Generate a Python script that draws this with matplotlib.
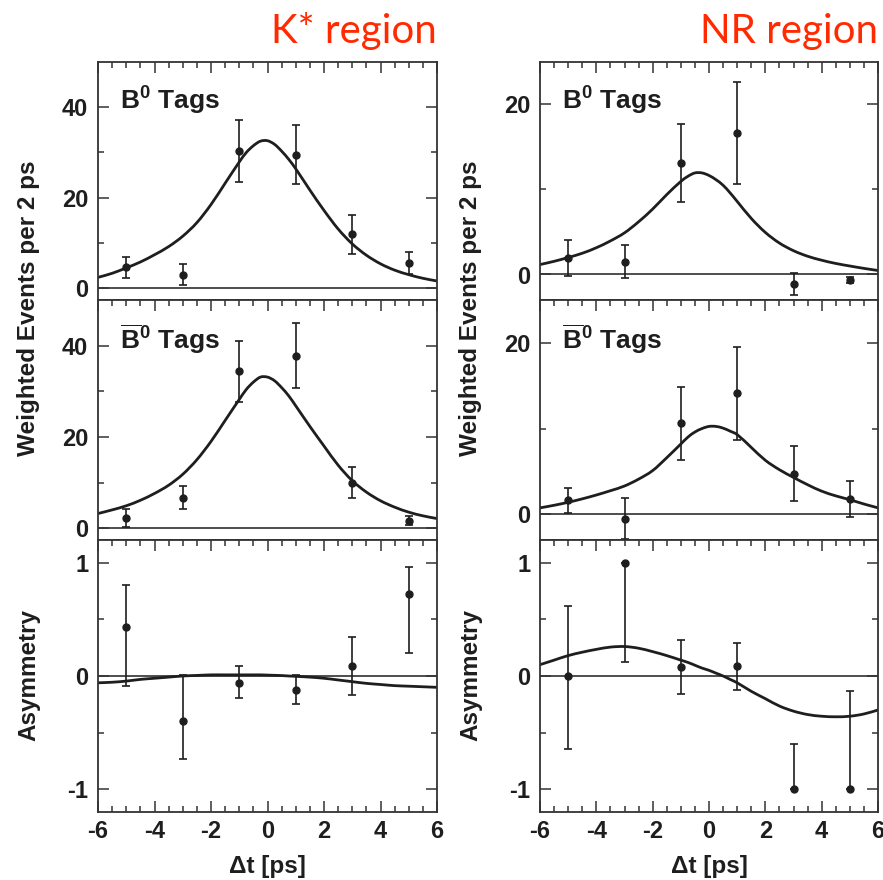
import matplotlib
matplotlib.use("Agg")
import matplotlib.pyplot as plt
from matplotlib.ticker import FixedLocator, NullFormatter
from matplotlib.path import Path
from matplotlib.patches import PathPatch

plt.rcParams['font.family'] = ['Liberation Sans', 'DejaVu Sans']
plt.rcParams['font.weight'] = 'bold'
plt.rcParams['axes.unicode_minus'] = False
plt.rcParams['mathtext.fontset'] = 'custom'
plt.rcParams['mathtext.rm'] = 'Liberation Sans:bold'
plt.rcParams['mathtext.bf'] = 'Liberation Sans:bold'
plt.rcParams['mathtext.it'] = 'Liberation Sans:bold'

# ---- data -----------------------------------------------------------------
bin_centers = [-5, -3, -1, 1, 3, 5]

# K* region: weighted events per 2 ps
kst_b0_vals = [4.6, 3.0, 30.3, 29.5, 11.9, 5.6]
kst_b0_errs = [2.4, 2.3, 6.9, 6.5, 4.3, 2.4]
kst_b0bar_vals = [2.2, 6.7, 34.4, 37.8, 9.9, 1.6]
kst_b0bar_errs = [1.9, 2.6, 6.7, 7.1, 3.4, 1.0]
kst_asym_vals = [0.43, -0.40, -0.06, -0.12, 0.09, 0.72]
kst_asym_lo = [0.52, 0.33, 0.135, 0.125, 0.26, 0.52]
kst_asym_hi = [0.37, 0.41, 0.145, 0.13, 0.25, 0.24]

# NR region
nr_b0_vals = [1.95, 1.52, 13.1, 16.7, -1.13, -0.66]
nr_b0_errs = [2.1, 1.95, 4.6, 6.0, 1.3, 0.38]
nr_b0bar_vals = [1.61, -0.51, 10.6, 14.1, 4.75, 1.73]
nr_b0bar_errs = [1.5, 2.4, 4.3, 5.4, 3.2, 2.1]
nr_asym_vals = [0.0, 1.0, 0.08, 0.09, -1.0, -1.0]
nr_asym_lo = [0.64, 0.88, 0.24, 0.21, 0.0, 0.0]
nr_asym_hi = [0.62, 0.0, 0.24, 0.20, 0.40, 0.87]

# fit projections sampled in delta t
fit_t = [-6, -5.5, -5, -4.5, -4, -3.5, -3, -2.5, -2, -1.5, -1, -0.75, -0.5,
         -0.25, 0, 0.25, 0.5, 0.75, 1, 1.5, 2, 2.5, 3, 3.5, 4, 4.5, 5, 5.5, 6]
kst_b0_fit = [2.4, 3.3, 4.5, 5.8, 7.4, 9.2, 11.5, 14.5, 18.5, 23.2, 27.9, 30.0,
              31.5, 32.5, 32.6, 31.8, 30.3, 28.5, 26.4, 21.7, 17.2, 13.1, 9.8,
              7.3, 5.4, 4.0, 3.0, 2.2, 1.6]
kst_b0bar_fit = [3.2, 4.0, 4.9, 6.1, 7.6, 9.4, 11.8, 15.0, 19.0, 23.6, 28.2,
                 30.4, 32.0, 33.1, 33.1, 32.3, 30.8, 29.0, 26.8, 22.3, 18.0,
                 13.8, 10.4, 7.9, 6.0, 4.6, 3.5, 2.7, 2.1]
kst_asym_fit = [-0.06, -0.055, -0.045, -0.03, -0.02, -0.01, 0.0, 0.005, 0.01,
                0.01, 0.01, 0.01, 0.01, 0.01, 0.008, 0.006, 0.004, 0.0, -0.003,
                -0.01, -0.02, -0.035, -0.05, -0.065, -0.075, -0.085, -0.09,
                -0.095, -0.10]
nr_b0_fit = [1.17, 1.55, 2.0, 2.5, 3.15, 3.95, 4.9, 6.2, 7.7, 9.4, 10.95, 11.55,
             11.95, 11.95, 11.65, 11.15, 10.5, 9.6, 8.6, 6.6, 4.95, 3.7, 2.8,
             2.15, 1.68, 1.3, 1.0, 0.72, 0.47]
nr_b0bar_fit = [0.75, 1.05, 1.4, 1.8, 2.25, 2.75, 3.3, 4.1, 5.1, 6.6, 8.2, 9.0,
                9.6, 10.0, 10.25, 10.25, 10.05, 9.7, 9.3, 7.8, 6.3, 5.2, 4.3,
                3.45, 2.7, 2.15, 1.7, 1.2, 0.75]
nr_asym_fit = [0.10, 0.14, 0.18, 0.21, 0.235, 0.255, 0.26, 0.245, 0.215, 0.18,
               0.14, 0.12, 0.095, 0.07, 0.05, 0.025, 0.0, -0.03, -0.06, -0.135,
               -0.20, -0.265, -0.31, -0.34, -0.355, -0.36, -0.355, -0.335, -0.30]

x_ticks = [-6, -4, -2, 0, 2, 4, 6]
x_minor = [v / 2 for v in range(-12, 13)]
col_titles = ["K* region", "NR region"]

INK = "#1e1e1e"
TITLE_RED = "#ff2a00"
LABEL_SIZE = 17.5
TICK_SIZE = 17

# ---- layout ---------------------------------------------------------------
W, H = 883, 880
fig = plt.figure(figsize=(W / 100, H / 100), dpi=100)


def px_axes(x0, x1, y0, y1):
    return fig.add_axes([x0 / W, 1 - y1 / H, (x1 - x0) / W, (y1 - y0) / H])


def style(ax, ylim, major, minor, bottom_labels):
    ax.set_xlim(-6, 6)
    ax.set_ylim(*ylim)
    ax.axhline(0, color=INK, lw=1.1, zorder=1)
    for s in ax.spines.values():
        s.set_linewidth(1.3)
        s.set_color("#333333")
    ax.xaxis.set_major_locator(FixedLocator(x_ticks))
    ax.xaxis.set_minor_locator(FixedLocator(x_minor))
    ax.yaxis.set_major_locator(FixedLocator(major))
    ax.yaxis.set_minor_locator(FixedLocator(minor))
    ax.tick_params(axis="both", which="both", direction="in", colors="#333333",
                   labelcolor=INK, labelsize=TICK_SIZE, width=1.1)
    ax.tick_params(axis="both", which="major", length=8)
    ax.tick_params(axis="both", which="minor", length=4)
    ax.tick_params(axis="y", which="both", left=True, right=True, pad=7)
    ax.tick_params(axis="x", which="both", top=True, bottom=bottom_labels,
                   labelbottom=bottom_labels, pad=6)
    ax.yaxis.set_minor_formatter(NullFormatter())


def smooth_curve(ax, xs, ys, **kw):
    """Draw a smooth cubic (Hermite) curve through the sampled fit values."""
    n = len(xs)
    slopes = []
    for i in range(n):
        a, b = max(i - 1, 0), min(i + 1, n - 1)
        slopes.append((ys[b] - ys[a]) / (xs[b] - xs[a]))
    verts = [(xs[0], ys[0])]
    codes = [Path.MOVETO]
    for i in range(n - 1):
        h = xs[i + 1] - xs[i]
        verts += [(xs[i] + h / 3, ys[i] + slopes[i] * h / 3),
                  (xs[i + 1] - h / 3, ys[i + 1] - slopes[i + 1] * h / 3),
                  (xs[i + 1], ys[i + 1])]
        codes += [Path.CURVE4] * 3
    ax.add_patch(PathPatch(Path(verts, codes), fill=False, **kw))


def draw(ax, vals, yerr, fit):
    smooth_curve(ax, fit_t, fit, edgecolor=INK, lw=2.0, zorder=2,
                 capstyle="round", joinstyle="round")
    ax.errorbar(bin_centers, vals, yerr=yerr, fmt="o", color=INK, ms=5,
                elinewidth=1.2, capsize=3.2, capthick=1.2, zorder=3)


columns = [
    dict(x0=98, x1=437,
         b0=(kst_b0_vals, kst_b0_errs, kst_b0_fit),
         b0bar=(kst_b0bar_vals, kst_b0bar_errs, kst_b0bar_fit),
         asym=(kst_asym_vals, [kst_asym_lo, kst_asym_hi], kst_asym_fit),
         ylim=(-2.6, 50), major=[0, 20, 40], minor=[10, 30]),
    dict(x0=540, x1=878,
         b0=(nr_b0_vals, nr_b0_errs, nr_b0_fit),
         b0bar=(nr_b0bar_vals, nr_b0bar_errs, nr_b0bar_fit),
         asym=(nr_asym_vals, [nr_asym_lo, nr_asym_hi], nr_asym_fit),
         ylim=(-3, 25), major=[0, 20], minor=[10]),
]

for col, title in zip(columns, col_titles):
    x0, x1 = col["x0"], col["x1"]
    ax_top = px_axes(x0, x1, 62, 300)
    ax_mid = px_axes(x0, x1, 300, 540)
    ax_bot = px_axes(x0, x1, 540, 812)

    style(ax_top, col["ylim"], col["major"], col["minor"], False)
    style(ax_mid, col["ylim"], col["major"], col["minor"], False)
    style(ax_bot, (-1.2, 1.2), [-1, 0, 1], [-0.5, 0.5], True)

    draw(ax_top, *col["b0"])
    draw(ax_mid, *col["b0bar"])
    draw(ax_bot, *col["asym"])

    ax_top.text(0.065, 0.80, r"$\mathbf{B}^{\mathbf{0}}$ Tags", transform=ax_top.transAxes,
                fontsize=19, color=INK, va="baseline", ha="left")
    ax_mid.text(0.065, 0.796, r"$\overline{\mathbf{B}}^{\mathbf{0}}$ Tags",
                transform=ax_mid.transAxes, fontsize=19, color=INK,
                va="baseline", ha="left")

    lab_x = (x0 - 69) / W
    fig.text(lab_x, 1 - 308 / H, "Weighted Events per 2 ps", rotation=90,
             ha="center", va="center", fontsize=LABEL_SIZE, color=INK)
    fig.text(lab_x, 1 - 675 / H, "Asymmetry", rotation=90,
             ha="center", va="center", fontsize=LABEL_SIZE, color=INK)
    fig.text((x0 + x1) / 2 / W, 1 - 866 / H, "\u0394t [ps]",
             ha="center", va="center", fontsize=LABEL_SIZE, color=INK)

    fig.text(x1 / W, 1 - 43 / H, title, family=["Lato", "DejaVu Sans"],
             fontweight="normal", fontsize=29, color=TITLE_RED,
             ha="right", va="baseline")

fig.savefig("out.png", dpi=100, facecolor="white")
